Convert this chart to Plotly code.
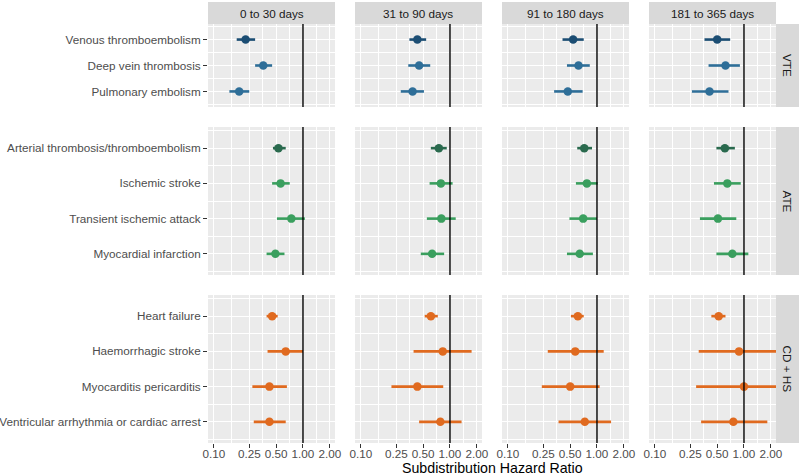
import math
import plotly.graph_objects as go

# ---------------- data ----------------
periods = ["0 to 30 days", "31 to 90 days", "91 to 180 days", "181 to 365 days"]
groups = ["VTE", "ATE", "CD + HS"]

vte_labels = ["Venous thromboembolism", "Deep vein thrombosis", "Pulmonary embolism"]
ate_labels = ["Arterial thrombosis/thromboembolism", "Ischemic stroke",
              "Transient ischemic attack", "Myocardial infarction"]
cdhs_labels = ["Heart failure", "Haemorrhagic stroke", "Myocarditis pericarditis",
               "Ventricular arrhythmia or cardiac arrest"]

# hazard ratios: one list per period, items in label order
vte_hr = [[0.227, 0.358, 0.192], [0.43, 0.45, 0.38], [0.54, 0.62, 0.47], [0.50, 0.62, 0.41]]
vte_lo = [[0.18, 0.29, 0.149], [0.35, 0.34, 0.28], [0.41, 0.46, 0.33], [0.36, 0.40, 0.26]]
vte_hi = [[0.29, 0.45, 0.249], [0.54, 0.60, 0.51], [0.71, 0.83, 0.69], [0.70, 0.90, 0.67]]

ate_hr = [[0.53, 0.56, 0.74, 0.49], [0.75, 0.79, 0.80, 0.63], [0.72, 0.77, 0.70, 0.64], [0.61, 0.65, 0.51, 0.74]]
ate_lo = [[0.46, 0.45, 0.51, 0.39], [0.61, 0.59, 0.55, 0.47], [0.60, 0.58, 0.49, 0.46], [0.49, 0.46, 0.32, 0.49]]
ate_hi = [[0.64, 0.71, 1.05, 0.62], [0.92, 1.07, 1.16, 0.86], [0.88, 1.02, 1.00, 0.90], [0.79, 0.92, 0.82, 1.12]]

cdhs_hr = [[0.45, 0.64, 0.42, 0.42], [0.61, 0.83, 0.43, 0.78], [0.61, 0.57, 0.50, 0.73], [0.52, 0.88, 1.00, 0.76]]
cdhs_lo = [[0.39, 0.40, 0.27, 0.28], [0.52, 0.39, 0.22, 0.45], [0.51, 0.28, 0.24, 0.37], [0.43, 0.31, 0.29, 0.33]]
cdhs_hi = [[0.52, 1.00, 0.66, 0.64], [0.73, 1.75, 0.84, 1.35], [0.71, 1.19, 1.07, 1.44], [0.62, 2.60, 3.00, 1.83]]

x_tickvals = [0.10, 0.25, 0.50, 1.00, 2.00]
x_ticktext = ["0.10", "0.25", "0.50", "1.00", "2.00"]
x_title = "Subdistribution Hazard Ratio"

# ---------------- styling ----------------
vte_colors = ["#1b4d73", "#2e6e98", "#2e6e98"]
ate_colors = ["#2a6a4e", "#3a9f5e", "#3a9f5e", "#3a9f5e"]
cdhs_colors = ["#e06a1f"] * 4

rows = [
    (vte_labels, vte_hr, vte_lo, vte_hi, vte_colors),
    (ate_labels, ate_hr, ate_lo, ate_hi, ate_colors),
    (cdhs_labels, cdhs_hr, cdhs_lo, cdhs_hi, cdhs_colors),
]

W, H = 800, 476
FONT = "Liberation Sans, Arial, sans-serif"
col_x = [208, 355, 502, 649]
PW = 127
row_y = [(24, 107), (127, 275), (295, 443)]
strip_top = (2, 24)
rstrip_x = (776, 799)
xrange_log = [math.log10(0.0857), math.log10(2.29)]

def fx(px):
    return px / W

def fy(py):
    return 1 - py / H

fig = go.Figure()
layout = {}
shapes = []
annotations = []

for r, (labels, hr, lo, hi, colors) in enumerate(rows):
    n = len(labels)
    for c in range(4):
        k = r * 4 + c + 1
        xs = "" if k == 1 else str(k)
        xname, yname = "x" + xs, "y" + xs
        layout["xaxis" + xs] = dict(
            domain=[fx(col_x[c]), fx(col_x[c] + PW)],
            anchor=yname, type="log", range=xrange_log,
            tickmode="array", tickvals=x_tickvals, ticktext=x_ticktext,
            showticklabels=(r == 2), ticks="outside" if r == 2 else "",
            ticklen=4, tickwidth=1, tickcolor="#333333", ticklabelstandoff=-4,
            tickfont=dict(family=FONT, size=11.7, color="#4D4D4D"),
            showgrid=True, gridcolor="white", gridwidth=1.1,
            minor=dict(tickmode="array", tickvals=[0.158, 0.354, 0.707, 1.414],
                       showgrid=True, gridcolor="white", gridwidth=0.5, ticks=""),
            zeroline=False, showline=False, fixedrange=True, automargin=False,
        )
        layout["yaxis" + xs] = dict(
            domain=[fy(row_y[r][1]), fy(row_y[r][0])],
            anchor=xname, range=[n - 0.4, -0.6],
            tickmode="array", tickvals=list(range(n)), ticktext=labels,
            showticklabels=(c == 0), ticks="outside" if c == 0 else "",
            ticklen=4, tickwidth=1, tickcolor="#333333",
            tickfont=dict(family=FONT, size=11.7, color="#4D4D4D"),
            showgrid=True, gridcolor="white", gridwidth=1.1,
            minor=dict(tickmode="array", tickvals=[i + 0.5 for i in range(-1, n)],
                       showgrid=True, gridcolor="white", gridwidth=0.5, ticks=""),
            zeroline=False, showline=False, fixedrange=True, automargin=False,
        )
        # panel background
        shapes.append(dict(type="rect", xref="paper", yref="paper", layer="below",
                           x0=fx(col_x[c]), x1=fx(col_x[c] + PW),
                           y0=fy(row_y[r][1]), y1=fy(row_y[r][0]),
                           fillcolor="#EBEBEB", line=dict(width=0)))
        # confidence intervals and points
        for i in range(n):
            fig.add_trace(go.Scatter(
                x=[lo[c][i], hi[c][i]], y=[i, i], mode="lines",
                line=dict(color=colors[i], width=2.6),
                xaxis=xname, yaxis=yname, showlegend=False, hoverinfo="skip"))
        for i in range(n):
            fig.add_trace(go.Scatter(
                x=[hr[c][i]], y=[i], mode="markers",
                marker=dict(color=colors[i], size=8.5, line=dict(width=0)),
                xaxis=xname, yaxis=yname, showlegend=False, cliponaxis=True))
        # reference line at HR = 1
        fig.add_trace(go.Scatter(
            x=[1, 1], y=[-0.6, n - 0.4], mode="lines",
            line=dict(color="black", width=1.4),
            xaxis=xname, yaxis=yname, showlegend=False, hoverinfo="skip"))

# column strips
for c, p in enumerate(periods):
    shapes.append(dict(type="rect", xref="paper", yref="paper", layer="below",
                       x0=fx(col_x[c]), x1=fx(col_x[c] + PW),
                       y0=fy(strip_top[1]), y1=fy(strip_top[0]),
                       fillcolor="#D9D9D9", line=dict(width=0)))
    annotations.append(dict(x=fx(col_x[c] + PW / 2), y=fy((strip_top[0] + strip_top[1]) / 2),
                            xref="paper", yref="paper", text=p, showarrow=False,
                            xanchor="center", yanchor="middle",
                            font=dict(family=FONT, size=11.7, color="#1A1A1A")))
# row strips
for r, g in enumerate(groups):
    shapes.append(dict(type="rect", xref="paper", yref="paper", layer="below",
                       x0=fx(rstrip_x[0]), x1=fx(rstrip_x[1]),
                       y0=fy(row_y[r][1]), y1=fy(row_y[r][0]),
                       fillcolor="#D9D9D9", line=dict(width=0)))
    annotations.append(dict(x=fx((rstrip_x[0] + rstrip_x[1]) / 2), y=fy((row_y[r][0] + row_y[r][1]) / 2),
                            xref="paper", yref="paper", text=g, showarrow=False,
                            textangle=90, xanchor="center", yanchor="middle",
                            font=dict(family=FONT, size=11.7, color="#1A1A1A")))
# x-axis title
annotations.append(dict(x=fx((col_x[0] + col_x[3] + PW) / 2), y=fy(467.5), xref="paper", yref="paper",
                        text=x_title, showarrow=False, xanchor="center", yanchor="middle",
                        font=dict(family=FONT, size=14.2, color="#000000")))

fig.update_layout(
    width=W, height=H,
    margin=dict(l=0, r=0, t=0, b=0),
    paper_bgcolor="white", plot_bgcolor="rgba(0,0,0,0)",
    shapes=shapes, annotations=annotations,
    font=dict(family=FONT), showlegend=False,
    **layout,
)

fig.write_html("out.html", config={"displayModeBar": False},
               post_script="document.body.style.margin='0';document.body.style.overflow='hidden';")
